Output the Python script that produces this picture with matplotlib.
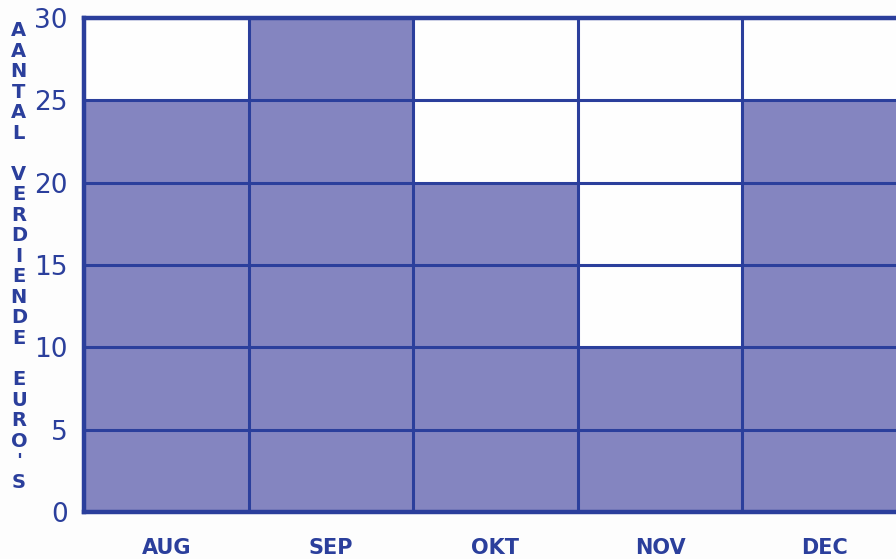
import matplotlib
matplotlib.use("Agg")
from matplotlib import pyplot as plt
from matplotlib.ticker import MultipleLocator, FixedLocator

months = ["AUG", "SEP", "OKT", "NOV", "DEC"]
euros = [25, 30, 20, 10, 25]
ylabel_letters = ["A", "A", "N", "T", "A", "L", "", "V", "E", "R", "D", "I", "E", "N", "D", "E", "", "E", "U", "R", "O", "'", "S"]

FILL = "#8485c0"
INK = "#2b3f9c"

fig = plt.figure(figsize=(8.96, 5.59), dpi=100)
fig.patch.set_facecolor("#fdfdfd")
ax = fig.add_axes([0.094, 0.084, 0.918, 0.884])
ax.set_facecolor("#fefefe")

x = list(range(len(months)))
ax.bar(x, euros, width=1.0, color=FILL, edgecolor="none", zorder=1)

ax.set_xlim(-0.5, len(months) - 0.5)
ax.set_ylim(0, 30)

# grid on top of bars
ax.yaxis.set_major_locator(MultipleLocator(5))
ax.xaxis.set_major_locator(FixedLocator(x))
ax.xaxis.set_minor_locator(FixedLocator([i + 0.5 for i in x[:-1]]))
ax.set_axisbelow(False)
ax.grid(axis="y", which="major", color=INK, linewidth=2.2, zorder=3)
ax.grid(axis="x", which="minor", color=INK, linewidth=2.2, zorder=3)
ax.grid(axis="x", which="major", visible=False)

for s in ax.spines.values():
    s.set_color(INK)
    s.set_linewidth(3.2)
    s.set_zorder(4)

ax.set_xticklabels(months, color=INK, fontsize=15, fontweight="bold")
ax.tick_params(axis="both", which="both", length=0)
ax.tick_params(axis="x", pad=19)
ax.tick_params(axis="y", pad=12, labelsize=19, labelcolor=INK)

# stacked vertical label
ytop = 0.945
step = 0.0367
for i, ch in enumerate(ylabel_letters):
    if ch:
        fig.text(0.021, ytop - i * step, ch, color=INK, fontsize=14,
                 fontweight="bold", ha="center", va="center")

fig.savefig("out.png", dpi=100, facecolor=fig.get_facecolor())
